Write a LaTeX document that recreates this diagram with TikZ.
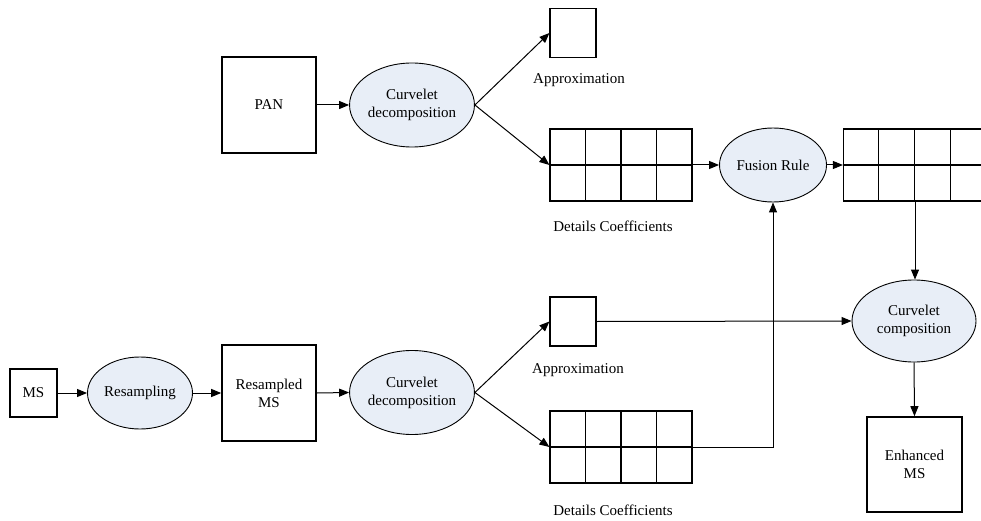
\documentclass[tikz,border=0pt]{standalone}
\usepackage{fontspec}
\setmainfont{Liberation Serif}
\usetikzlibrary{arrows.meta,shapes.geometric,calc}
\definecolor{ellfill}{HTML}{E8EEF7}
\begin{document}
\begin{tikzpicture}[x=1pt,y=-1pt,
  every node/.style={font=\fontsize{15}{18}\selectfont, inner sep=0pt},
  blk/.style={draw, line width=1.6pt, rectangle, align=center},
  ell/.style={draw, line width=0.9pt, ellipse, fill=ellfill, align=center},
  gridbox/.style={draw, line width=1.2pt, rectangle, minimum width=142pt, minimum height=72pt},
  conn/.style={line width=1pt, -{Triangle[length=10pt,width=8pt]}},
  plain/.style={line width=1pt},
  lbl/.style={anchor=center}]
\useasboundingbox (0,0) rectangle (981,521);

% boxes
\node[blk, minimum width=94pt, minimum height=96pt] (pan) at (269,105) {PAN};
\node[blk, minimum width=94pt, minimum height=96pt] (rms) at (269,393) {Resampled\\MS};
\node[blk, minimum width=47pt, minimum height=48pt] (ms) at (33.5,393) {MS};
\node[blk, minimum width=95pt, minimum height=95pt] (ems) at (914.5,464.5) {Enhanced\\MS};
\node[draw, line width=1.2pt, minimum width=46pt, minimum height=49pt] (apt) at (573,33) {};
\node[draw, line width=1.2pt, minimum width=46pt, minimum height=49pt] (apb) at (573,321.5) {};

% ellipses
\node[ell, minimum width=124pt, minimum height=84pt] (dect) at (412,105) {Curvelet\\decomposition};
\node[ell, minimum width=124pt, minimum height=84pt] (decb) at (412,392.5) {Curvelet\\decomposition};
\node[ell, minimum width=105pt, minimum height=72pt] (res) at (140,393) {Resampling};
\node[ell, minimum width=107pt, minimum height=74pt] (fus) at (773,165) {Fusion Rule};
\node[ell, minimum width=124pt, minimum height=82pt] (comp) at (914,321) {Curvelet\\composition};

% grids
\node[gridbox] (gt) at (621,165) {};
\node[gridbox] (gb) at (621,447) {};
\node[gridbox] (gr) at (914.5,165) {};
\foreach \g in {gt,gb,gr}{
  \draw[line width=1.2pt] (\g.west) -- (\g.east);
  \draw[line width=1.2pt] ($(\g.north west)!0.25!(\g.north east)$) -- ($(\g.south west)!0.25!(\g.south east)$);
  \draw[line width=1.2pt] ($(\g.north west)!0.5!(\g.north east)$) -- ($(\g.south west)!0.5!(\g.south east)$);
  \draw[line width=1.2pt] ($(\g.north west)!0.75!(\g.north east)$) -- ($(\g.south west)!0.75!(\g.south east)$);
}

% labels
\node[lbl] (lat) at (579,80) {Approximation};
\node[lbl] (lab) at (578,370) {Approximation};
\node[lbl] (ldt) at (613,226) {Details Coefficients};
\node[lbl] (ldb) at (613,510) {Details Coefficients};

% connectors
\draw[conn] (pan.east) -- (dect.west);
\draw[conn] (dect.east) -- (apt.west);
\draw[conn] (dect.east) -- (gt.west);
\draw[conn] (gt.east) -- (fus.west);
\draw[conn] (fus.east) -- (gr.west);
\coordinate (grb) at (915,201);
\draw[conn] (grb) -- (grb |- comp.north);
\draw[conn] (ms.east) -- (res.west);
\draw[conn] (res.east) -- (rms.west);
\draw[conn] (rms.east) -- (decb.west);
\draw[conn] (decb.east) -- (apb.west);
\draw[conn] (decb.east) -- (gb.west);
\draw[conn] (apb.east) -- (comp.west);
\draw[conn] (gb.east) -| (fus.south);
\draw[conn] (comp.south) -- (ems.north);
\end{tikzpicture}
\end{document}
